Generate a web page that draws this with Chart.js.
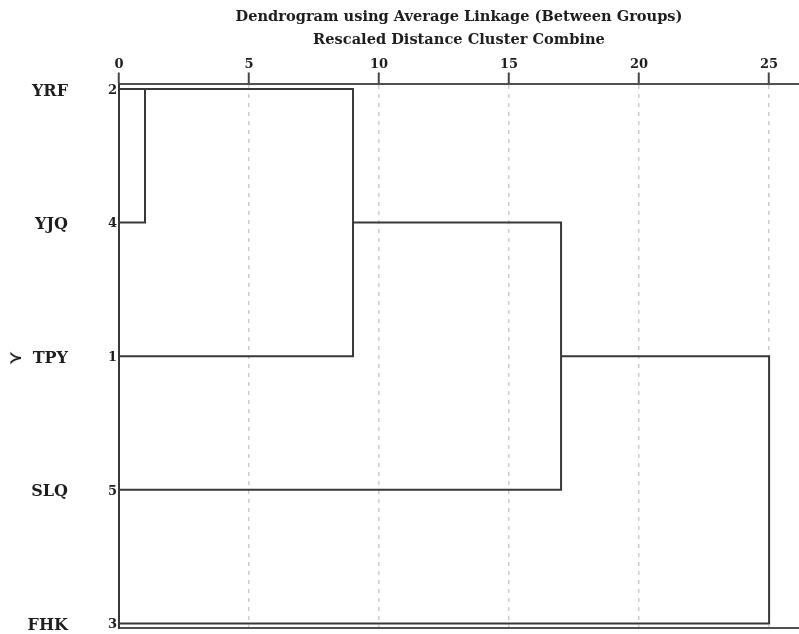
<!DOCTYPE html>
<html>
<head>
<meta charset="utf-8">
<script src="https://cdn.jsdelivr.net/npm/chart.js@4.4.1/dist/chart.umd.min.js"></script>
<style>
  html, body { margin: 0; padding: 0; background: #ffffff; }
  #wrap { width: 799px; height: 634px; }
</style>
</head>
<body>
<div id="wrap"><canvas id="dendro" width="799" height="634"></canvas></div>
<script>
// Cases in the order they are listed down the dendrogram
const caseNames = ['YRF', 'YJQ', 'TPY', 'SLQ', 'FHK'];
const caseNumbers = ['2', '4', '1', '5', '3'];
const caseMarkers = ['', '', '\u227B', '', ''];

// Agglomeration schedule: rows joined at each step and the rescaled distance of the join
const joinRowA = [0, 0, 1, 2];
const joinRowB = [1, 2, 3, 4];
const joinDistance = [1, 9, 17, 25];

// Rescaled distance axis
const distanceTicks = [0, 5, 10, 15, 20, 25];
const distanceMax = 26.15;

const serif = "'DejaVu Serif', 'Liberation Serif', serif";
const inkText = '#1e1e1e';
const inkLine = '#383838';

// Each join is drawn as a bracket: branch A out to the join distance, down, and back along branch B.
const reach = caseNames.map(() => 0);
const datasets = joinDistance.map((d, i) => {
  const a = joinRowA[i], b = joinRowB[i];
  const pts = [
    { x: reach[a], y: a },
    { x: d, y: a },
    { x: d, y: b },
    { x: reach[b], y: b }
  ];
  // the merged cluster carries on from the middle row (rounded up the list)
  reach[Math.floor((a + b) / 2)] = d;
  return {
    data: pts,
    showLine: true,
    borderColor: inkLine,
    borderWidth: 2,
    pointRadius: 0,
    borderJoinStyle: 'miter',
    borderCapStyle: 'butt',
    tension: 0,
    xAxisID: 'x',
    yAxisID: 'yNum'
  };
});

const titleTop = 5.5, titleLine = 23;
const plotTop = 83.5;
const rowMin = -0.041, rowMax = 4.034;
const rowTicks = s => { s.ticks = caseNames.map((_, i) => ({ value: i })); };
const noPad = s => { s.paddingTop = 0; s.paddingBottom = 0; s.paddingLeft = 0; s.paddingRight = 0; };

new Chart(document.getElementById('dendro'), {
  type: 'scatter',
  data: { datasets },
  options: {
    responsive: false,
    animation: false,
    devicePixelRatio: 1,
    layout: { padding: 0 },
    plugins: {
      legend: { display: false },
      tooltip: { enabled: false },
      title: {
        display: true,
        fullSize: false,
        text: ['Dendrogram using Average Linkage (Between Groups)', 'Rescaled Distance Cluster Combine'],
        color: inkText,
        font: { family: serif, weight: 'bold', size: 14.6, lineHeight: titleLine + 'px' },
        padding: { top: titleTop, bottom: 0 }
      }
    },
    scales: {
      x: {
        type: 'linear',
        position: 'top',
        min: 0,
        max: distanceMax,
        afterBuildTicks: s => { s.ticks = distanceTicks.map(v => ({ value: v })); },
        afterFit: s => { noPad(s); s.height = plotTop - (titleTop + 2 * titleLine); },
        ticks: {
          color: inkText,
          font: { family: serif, weight: 'bold', size: 13, lineHeight: 1.2 },
          padding: 0,
          maxRotation: 0,
          autoSkip: false
        },
        grid: {
          color: c => (c.tick && c.tick.value === 0) ? 'rgba(0,0,0,0)' : '#cdcdcd',
          lineWidth: 1.5,
          tickLength: 11,
          tickColor: '#444444',
          tickWidth: 2
        },
        border: { display: true, color: '#505050', width: 2, dash: [4, 5] }
      },
      xBase: {
        type: 'linear',
        position: 'bottom',
        min: 0,
        max: distanceMax,
        ticks: { display: false },
        grid: { display: false, drawTicks: false },
        border: { display: true, color: '#505050', width: 2 },
        afterFit: s => { noPad(s); s.height = 6; }
      },
      yNum: {
        type: 'linear',
        position: 'left',
        weight: 0,
        reverse: true,
        min: rowMin,
        max: rowMax,
        afterBuildTicks: rowTicks,
        afterFit: s => { noPad(s); s.width = 49; },
        ticks: {
          callback: (v, i) => caseNumbers[i],
          color: inkText,
          font: { family: serif, weight: 'bold', size: 13 },
          padding: 2,
          labelOffset: 1.5,
          autoSkip: false
        },
        grid: { display: false, drawTicks: false },
        border: { display: true, color: '#383838', width: 2 }
      },
      yName: {
        type: 'linear',
        position: 'left',
        weight: 1,
        reverse: true,
        min: rowMin,
        max: rowMax,
        afterBuildTicks: rowTicks,
        afterFit: s => { noPad(s); s.width = 70; },
        ticks: {
          callback: (v, i) => caseMarkers[i] ? caseMarkers[i] + '  ' + caseNames[i] : caseNames[i],
          color: inkText,
          font: { family: serif, weight: 'bold', size: 16 },
          padding: 2,
          labelOffset: 2.5,
          autoSkip: false
        },
        grid: { display: false, drawTicks: false },
        border: { display: false }
      }
    }
  }
});
</script>
</body>
</html>
